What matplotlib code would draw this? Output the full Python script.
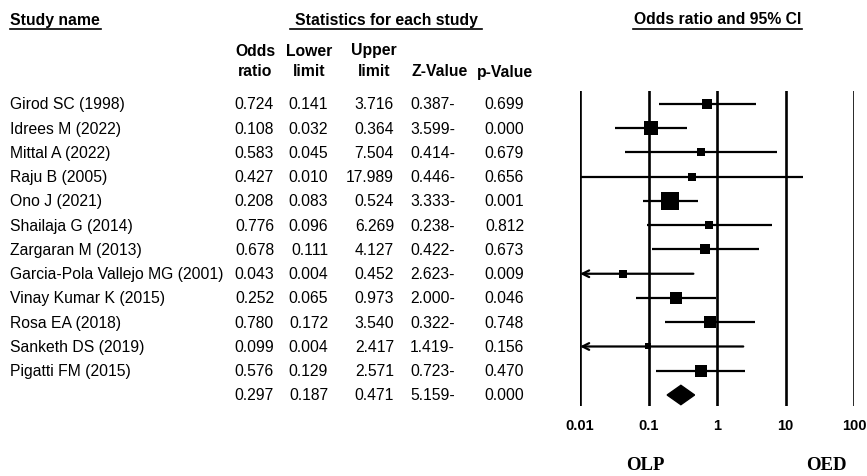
import matplotlib.pyplot as plt
from matplotlib.lines import Line2D
from matplotlib.transforms import blended_transform_factory
import numpy as np

plt.rcParams['font.family'] = ['Liberation Sans', 'DejaVu Sans']

studies = ["Girod SC (1998)", "Idrees M (2022)", "Mittal A (2022)", "Raju B (2005)",
           "Ono J (2021)", "Shailaja G (2014)", "Zargaran M (2013)",
           "Garcia-Pola Vallejo MG (2001)", "Vinay Kumar K (2015)", "Rosa EA (2018)",
           "Sanketh DS (2019)", "Pigatti FM (2015)"]
odds = [0.724, 0.108, 0.583, 0.427, 0.208, 0.776, 0.678, 0.043, 0.252, 0.780, 0.099, 0.576]
lower = [0.141, 0.032, 0.045, 0.010, 0.083, 0.096, 0.111, 0.004, 0.065, 0.172, 0.004, 0.129]
upper = [3.716, 0.364, 7.504, 17.989, 0.524, 6.269, 4.127, 0.452, 0.973, 3.540, 2.417, 2.571]
zval = ["0.387-", "3.599-", "0.414-", "0.446-", "3.333-", "0.238-", "0.422-",
        "2.623-", "2.000-", "0.322-", "1.419-", "0.723-"]
pval = [0.699, 0.000, 0.679, 0.656, 0.001, 0.812, 0.673, 0.009, 0.046, 0.748, 0.156, 0.470]
weights = [7.5, 12.7, 3.7, 3.7, 24.3, 4.8, 6.1, 3.7, 10.8, 10.8, 3.4, 9.1]
pooled = [0.297, 0.187, 0.471, "5.159-", 0.000]
xticks = [0.01, 0.1, 1, 10, 100]
xticklabels = ["0.01", "0.1", "1", "10", "100"]

W, H = 867, 477
fig = plt.figure(figsize=(W / 100, H / 100), dpi=100)

# forest axes: 0.01 at x=580px, 100 at x=854px, rows from y=92 to 407
ax = fig.add_axes([580 / W, 1 - 407 / H, (854 - 580) / W, (407 - 92) / H])
ax.set_xscale('log')
ax.set_xlim(0.01, 100)
n = len(studies)
ax.set_ylim(12.454, -0.536)
for s in ax.spines.values():
    s.set_visible(False)
ax.set_yticks([])
ax.set_xticks(xticks)
ax.set_xticklabels(xticklabels, fontweight='bold', fontsize=10.5)
ax.tick_params(axis='x', length=0, pad=9)
ax.minorticks_off()
for t in xticks:
    ax.axvline(t, color='black', lw=1.9, zorder=1)

for i in range(n):
    lo = lower[i]
    if lo < 0.01:
        ax.annotate("", xy=(0.01, i), xytext=(upper[i], i),
                    arrowprops=dict(arrowstyle='->', lw=1.6, color='black',
                                    shrinkA=0, shrinkB=0, mutation_scale=12),
                    zorder=2)
    else:
        ax.plot([lo, upper[i]], [i, i], color='black', lw=1.6, zorder=2,
                solid_capstyle='butt', clip_on=False)
    side = 3.65 * np.sqrt(weights[i]) * 72 / 100
    ax.plot(odds[i], i, marker='s', color='black', ms=side, mew=0, zorder=3)

# pooled diamond
d = 0.4
ax.fill([pooled[1], pooled[0], pooled[2], pooled[0]], [n, n - d, n, n + d],
        color='black', zorder=3, clip_on=False)

# table text
tr = blended_transform_factory(fig.transFigure, ax.transData)
fs = 11.3
col_right = [274, 328, 394, 455, 524]
for i in range(n):
    ax.text(10 / W, i, studies[i], transform=tr, ha='left', va='center', fontsize=fs)
    vals = [f"{odds[i]:.3f}", f"{lower[i]:.3f}", f"{upper[i]:.3f}", zval[i], f"{pval[i]:.3f}"]
    for x, v in zip(col_right, vals):
        ax.text(x / W, i, v, transform=tr, ha='right', va='center', fontsize=fs)
pv = [f"{pooled[0]:.3f}", f"{pooled[1]:.3f}", f"{pooled[2]:.3f}", pooled[3], f"{pooled[4]:.3f}"]
for x, v in zip(col_right, pv):
    ax.text(x / W, n, v, transform=tr, ha='right', va='center', fontsize=fs)

# headers
def fx(x):
    return x / W

def fy(y):
    return 1 - y / H

fig.text(fx(10), fy(20), "Study name", ha='left', va='center', fontsize=fs, fontweight='bold')
fig.text(fx(386), fy(20), "Statistics for each study", ha='center', va='center',
         fontsize=fs, fontweight='bold')
fig.text(fx(718), fy(20), "Odds ratio and 95% CI", ha='center', va='center',
         fontsize=fs, fontweight='bold')
for x0, x1 in [(10, 101), (290, 482), (633, 802)]:
    fig.add_artist(Line2D([fx(x0), fx(x1)], [fy(30), fy(30)], color='black', lw=1.2))

heads = [("Odds", "ratio", 255), ("Lower", "limit", 309), ("Upper", "limit", 374),
         ("", "Z-Value", 440), ("", "p-Value", 505)]
for top, bot, x in heads:
    if top:
        fig.text(fx(x), fy(51), top, ha='center', va='center', fontsize=fs, fontweight='bold')
    fig.text(fx(x), fy(72), bot, ha='center', va='center', fontsize=fs, fontweight='bold')

fig.text(fx(645), fy(466), "OLP", ha='center', va='center', fontsize=13.5,
         fontweight='bold', family='Liberation Serif')
fig.text(fx(826), fy(466), "OED", ha='center', va='center', fontsize=13.5,
         fontweight='bold', family='Liberation Serif')

fig.savefig("out.png", dpi=100)
